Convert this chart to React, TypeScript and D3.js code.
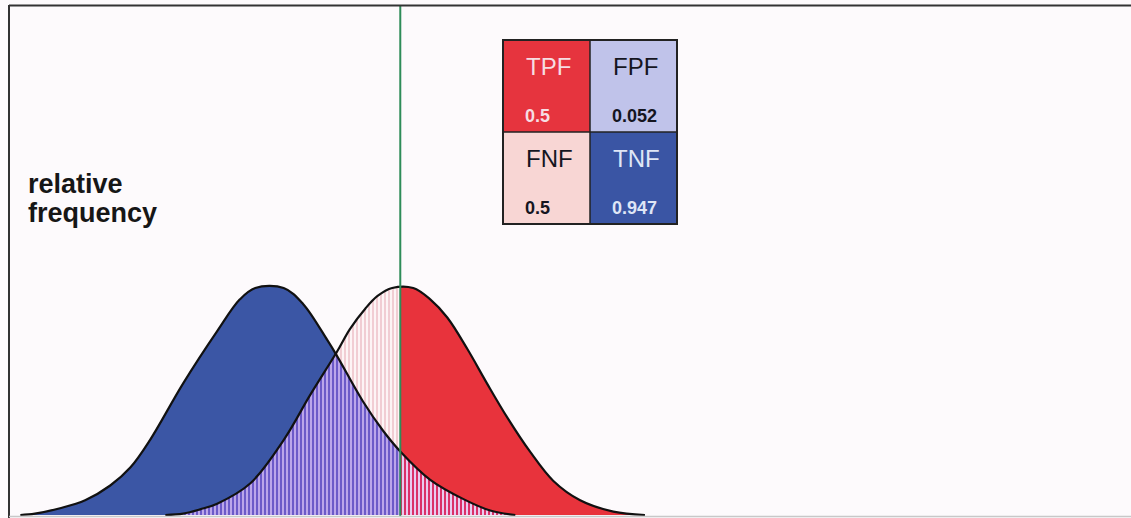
import React from "react";
import * as d3 from "d3";

// Negative (blue) distribution: score vs relative frequency
const blueScores = [-3.06, -2.88, -2.57, -2.26, -1.95, -1.7, -1.46, -1.05, -0.63, -0.35, -0.16, 0.19, 0.43, 0.73, 0.85, 1.17, 1.42, 1.63, 2.0, 2.41, 2.74, 3.05];
const blueDensity = [0, 0.006, 0.03, 0.065, 0.13, 0.21, 0.33, 0.58, 0.81, 0.95, 1.0, 1.0, 0.93, 0.77, 0.7, 0.5, 0.37, 0.28, 0.155, 0.07, 0.02, 0];

// Positive (red) distribution
const redScores = [-1.27, -1.05, -0.84, -0.63, -0.22, 0.19, 0.52, 0.85, 1.01, 1.2, 1.35, 1.53, 1.79, 2.0, 2.21, 2.46, 2.7, 2.95, 3.23, 3.52, 3.85, 4.26, 4.65];
const redDensity = [0, 0.006, 0.025, 0.05, 0.14, 0.33, 0.53, 0.72, 0.82, 0.91, 0.965, 1.0, 1.0, 0.95, 0.87, 0.73, 0.58, 0.43, 0.28, 0.15, 0.065, 0.015, 0];

const threshold = 1.63;

// Decision matrix
const cellLabels = ["TPF", "FPF", "FNF", "TNF"];
const cellValues = ["0.5", "0.052", "0.5", "0.947"];
const cellFills = ["#e6343e", "#c0c3ea", "#f8d6d4", "#3a55a4"];
const cellText = ["#f6dde2", "#15151f", "#15151f", "#dfe6f6"];

const W = 1131;
const H = 518;

export default function App() {
  const x = d3.scaleLinear().domain([-3.2, 10.65]).range([9, 1131]);
  const y = d3.scaleLinear().domain([0, 1]).range([515, 288]);

  const blueData = d3.zip(blueScores, blueDensity) as [number, number][];
  const redData = d3.zip(redScores, redDensity) as [number, number][];

  const curve = d3.curveCatmullRom.alpha(0.5);
  const area = d3
    .area<[number, number]>()
    .x((d) => x(d[0]))
    .y0(y(0))
    .y1((d) => Math.min(y(0), y(d[1])))
    .curve(curve);
  const line = d3
    .line<[number, number]>()
    .x((d) => x(d[0]))
    .y((d) => y(d[1]))
    .curve(curve);

  const blueA = area(blueData) || "";
  const redA = area(redData) || "";
  const tx = x(threshold);

  // legend geometry
  const lx = 503;
  const ly = 40;
  const cw = 87;
  const ch = 92;

  return (
    <svg
      width={W}
      height={H}
      style={{ position: "absolute", left: 0, top: 0, background: "#fdfafc" }}
      fontFamily="'Liberation Sans', Arial, Helvetica, sans-serif"
    >
      <defs>
        <clipPath id="cl">
          <rect x={0} y={0} width={tx} height={H} />
        </clipPath>
        <clipPath id="cr">
          <rect x={tx} y={0} width={W - tx} height={H} />
        </clipPath>
        <clipPath id="cb">
          <path d={blueA} />
        </clipPath>
        <clipPath id="cplot">
          <rect x={0} y={0} width={W} height={515} />
        </clipPath>
        <pattern id="pFNF" patternUnits="userSpaceOnUse" width={4} height={10}>
          <rect x={0} y={0} width={2} height={10} fill="#f1cdd3" />
          <rect x={2} y={0} width={2} height={10} fill="#fdf4f5" />
        </pattern>
        <pattern id="pOL" patternUnits="userSpaceOnUse" width={4} height={10}>
          <rect x={0} y={0} width={2} height={10} fill="#6c5ac8" />
          <rect x={2} y={0} width={2} height={10} fill="#bba6ea" />
        </pattern>
        <pattern id="pOR" patternUnits="userSpaceOnUse" width={4} height={10}>
          <rect x={0} y={0} width={2} height={10} fill="#da3068" />
          <rect x={2} y={0} width={2} height={10} fill="#e8cbee" />
        </pattern>
      </defs>

      <g clipPath="url(#cplot)">
        {/* blue (negative) distribution */}
        <g clipPath="url(#cl)">
          <path d={blueA} fill="#3b56a5" />
        </g>
        <g clipPath="url(#cr)">
          <path d={blueA} fill="#c0c3ea" />
        </g>
        {/* red (positive) distribution */}
        <g clipPath="url(#cl)">
          <path d={redA} fill="url(#pFNF)" />
        </g>
        <g clipPath="url(#cr)">
          <path d={redA} fill="#e8333c" />
        </g>
        {/* overlap */}
        <g clipPath="url(#cb)">
          <g clipPath="url(#cl)">
            <path d={redA} fill="url(#pOL)" />
          </g>
          <g clipPath="url(#cr)">
            <path d={redA} fill="url(#pOR)" />
          </g>
        </g>
      </g>

      {/* outlines */}
      <path d={line(blueData) || ""} fill="none" stroke="#111" strokeWidth={2.2} strokeLinejoin="round" />
      <path d={line(redData) || ""} fill="none" stroke="#111" strokeWidth={2.2} strokeLinejoin="round" />

      {/* threshold */}
      <line x1={tx} x2={tx} y1={5} y2={516} stroke="#2e8c58" strokeWidth={2} />

      {/* frame */}
      <line x1={9} x2={W} y1={5.5} y2={5.5} stroke="#333" strokeWidth={2} />
      <line x1={9} x2={9} y1={5} y2={H} stroke="#333" strokeWidth={2} />
      <line x1={9} x2={W} y1={516.5} y2={516.5} stroke="#c8c8c8" strokeWidth={1.5} />

      {/* axis label */}
      <text x={28} y={193} fontSize={27} fontWeight="bold" fill="#161616">
        relative
      </text>
      <text x={28} y={222} fontSize={27} fontWeight="bold" fill="#161616">
        frequency
      </text>

      {/* decision matrix */}
      {cellLabels.map((lab, i) => {
        const cx = lx + (i % 2) * cw;
        const cy = ly + Math.floor(i / 2) * ch;
        return (
          <g key={lab}>
            <rect x={cx} y={cy} width={cw} height={ch} fill={cellFills[i]} />
            <text x={cx + 23} y={cy + 35} fontSize={24} fill={cellText[i]}>
              {lab}
            </text>
            <text x={cx + 22} y={cy + 82} fontSize={18} fontWeight="bold" fill={cellText[i]}>
              {cellValues[i]}
            </text>
          </g>
        );
      })}
      <rect x={lx} y={ly} width={cw * 2} height={ch * 2} fill="none" stroke="#222" strokeWidth={2} />
      <line x1={lx + cw} x2={lx + cw} y1={ly} y2={ly + ch * 2} stroke="#222" strokeWidth={1.5} />
      <line x1={lx} x2={lx + cw * 2} y1={ly + ch} y2={ly + ch} stroke="#222" strokeWidth={1.5} />
    </svg>
  );
}
